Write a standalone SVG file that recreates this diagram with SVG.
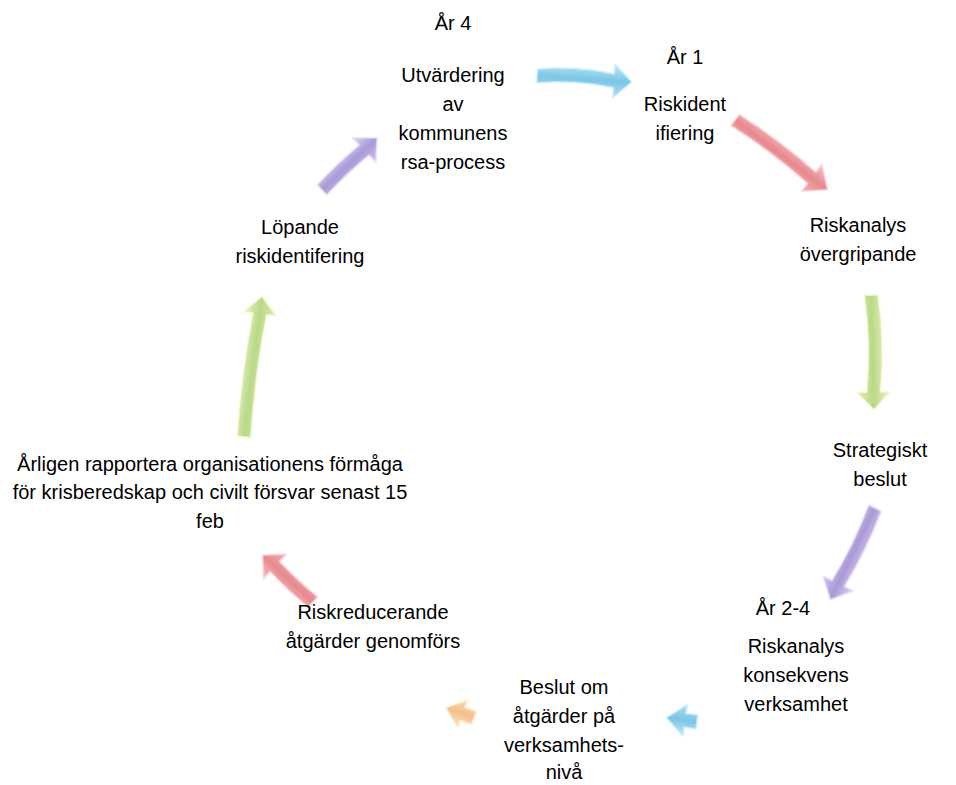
<svg xmlns="http://www.w3.org/2000/svg" width="956" height="785" viewBox="0 0 956 785">
<style>
text{font-family:"Liberation Sans",Arial,sans-serif;font-size:20px;fill:#000;text-anchor:middle}
.arr{stroke-width:1.5;stroke-linejoin:round;filter:url(#soft);opacity:0.8}
</style>
<defs>
<filter id="soft" x="-20%" y="-20%" width="140%" height="140%"><feGaussianBlur stdDeviation="0.7"/></filter>
<linearGradient id="gBlue" x1="0" y1="0" x2="0" y2="1"><stop offset="0" stop-color="#b4e4f4"/><stop offset="0.5" stop-color="#5bb9e0"/><stop offset="1" stop-color="#9ad8f0"/></linearGradient>
<linearGradient id="gRed" x1="0" y1="0" x2="0" y2="1"><stop offset="0" stop-color="#f6b8ba"/><stop offset="0.5" stop-color="#e26b72"/><stop offset="1" stop-color="#f2a6aa"/></linearGradient>
<linearGradient id="gGreen" x1="0" y1="0" x2="0" y2="1"><stop offset="0" stop-color="#e8f6c0"/><stop offset="0.5" stop-color="#a9cf6a"/><stop offset="1" stop-color="#d8eea4"/></linearGradient>
<linearGradient id="gPurple" x1="0" y1="0" x2="0" y2="1"><stop offset="0" stop-color="#d8ccf2"/><stop offset="0.5" stop-color="#9580cc"/><stop offset="1" stop-color="#c6b8ea"/></linearGradient>
<linearGradient id="gOrange" x1="0" y1="0" x2="0" y2="1"><stop offset="0" stop-color="#fde4bc"/><stop offset="0.5" stop-color="#f1b06a"/><stop offset="1" stop-color="#fbd6a2"/></linearGradient>
</defs>
<g id="connectors">
<path class="arr" fill="url(#gBlue)" stroke="#c2ecfa" transform="translate(537,76) rotate(3.6)" d="M0,-7 Q38,-13 77,-7 L77,-17 L95,0 L77,17 L77,7 Q38,1 0,7 Z"/>
<path class="arr" fill="url(#gRed)" stroke="#fad0d2" transform="translate(735,120) rotate(37)" d="M0,-7 Q48,-11 96,-7 L96,-17 L116,0 L96,17 L96,7 Q48,3 0,7 Z"/>
<path class="arr" fill="url(#gGreen)" stroke="#f4fcd4" transform="translate(871,295) rotate(88.5)" d="M0,-7 Q48,-13 97,-7 L97,-17 L115,0 L97,17 L97,7 Q48,1 0,7 Z"/>
<path class="arr" fill="url(#gPurple)" stroke="#e4daf8" transform="translate(875,508) rotate(116)" d="M0,-7 Q42,-11 84,-7 L84,-17 L102,0 L84,17 L84,7 Q42,3 0,7 Z"/>
<path class="arr" fill="url(#gBlue)" stroke="#c2ecfa" transform="translate(697,722) rotate(188)" d="M0,-7 L12,-7 L12,-16 L31,0 L12,16 L12,7 L0,7 Z"/>
<path class="arr" fill="url(#gOrange)" stroke="#feeccc" transform="translate(474,718) rotate(200)" d="M0,-7 L12,-7 L12,-15 L30,0 L12,15 L12,7 L0,7 Z"/>
<path class="arr" fill="url(#gRed)" stroke="#fad0d2" transform="translate(313,602) rotate(-137)" d="M0,-7 Q26,-9 52,-7 L52,-17 L69,0 L52,17 L52,7 Q26,5 0,7 Z"/>
<path class="arr" fill="url(#gGreen)" stroke="#f4fcd4" transform="translate(244,437) rotate(-82.7)" d="M0,-7 Q62,-11 124,-7 L124,-17 L142,0 L124,17 L124,7 Q62,3 0,7 Z"/>
<path class="arr" fill="url(#gPurple)" stroke="#e4daf8" transform="translate(322,190) rotate(-43.4)" d="M0,-7 Q29,-9 58,-7 L58,-17 L76,0 L58,17 L58,7 Q29,5 0,7 Z"/>
</g>
<g id="n-ar4">
<text x="453" y="30">År 4</text>
<text x="453" y="82">Utvärdering</text>
<text x="453" y="111">av</text>
<text x="453" y="140">kommunens</text>
<text x="453" y="169">rsa-process</text>
</g>
<g id="n-ar1">
<text x="685" y="64">År 1</text>
<text x="685" y="111">Riskident</text>
<text x="685" y="140">ifiering</text>
</g>
<g id="n-riskanalys-overgripande">
<text x="858" y="232">Riskanalys</text>
<text x="858" y="261">övergripande</text>
</g>
<g id="n-strategiskt">
<text x="880" y="457">Strategiskt</text>
<text x="880" y="486">beslut</text>
</g>
<g id="n-ar24">
<text x="783" y="615">År 2-4</text>
<text x="796" y="653">Riskanalys</text>
<text x="796" y="682">konsekvens</text>
<text x="796" y="711">verksamhet</text>
</g>
<g id="n-beslut">
<text x="564" y="694">Beslut om</text>
<text x="564" y="723">åtgärder på</text>
<text x="564" y="752">verksamhets-</text>
<text x="564" y="779">nivå</text>
</g>
<g id="n-riskreducerande">
<text x="373" y="619">Riskreducerande</text>
<text x="373" y="648">åtgärder genomförs</text>
</g>
<g id="n-arligen">
<text x="210" y="471">Årligen rapportera organisationens förmåga</text>
<text x="210" y="499">för krisberedskap och civilt försvar senast 15</text>
<text x="210" y="528">feb</text>
</g>
<g id="n-lopande">
<text x="300" y="234">Löpande</text>
<text x="300" y="263">riskidentifering</text>
</g>
</svg>
